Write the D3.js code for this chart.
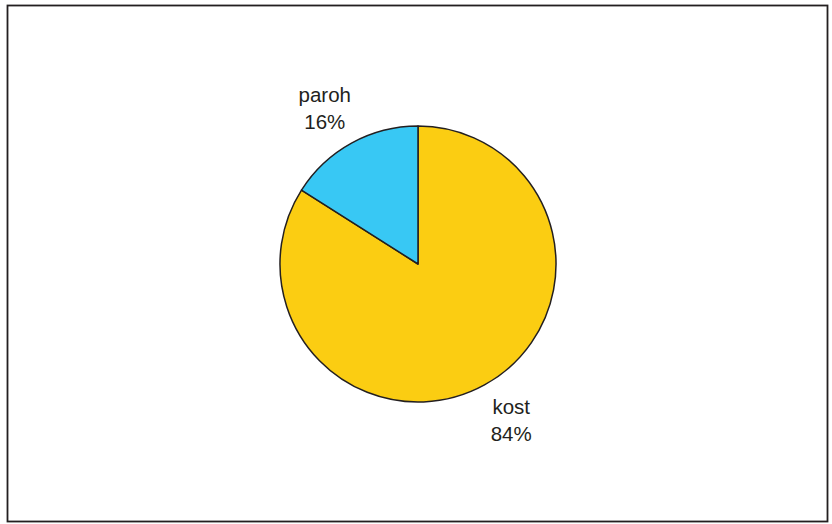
<!DOCTYPE html>
<html>
<head>
<meta charset="utf-8">
<script src="https://cdn.jsdelivr.net/npm/d3@7"></script>
<style>
  body { margin: 0; background: #fff; }
  text { font-family: "Liberation Sans", Arial, sans-serif; font-size: 20.5px; fill: #231f20; }
</style>
</head>
<body>
<div id="chart"></div>
<script>
// data
var categories = ["kost", "paroh"];
var values = [84, 16];
var percentLabels = ["84%", "16%"];
var sliceColors = ["#fbcd12", "#38c8f4"];

function main() {
    var width = 832, height = 524;
    var cx = 418, cy = 264, radius = 138;
    // labels sit on a slightly wider-than-tall ring around the pie
    var labelRx = 193.5, labelRy = 178;

    var svg = d3.select("#chart").append("svg")
                .attr("width", width).attr("height", height);

    // outer frame
    svg.append("rect")
        .attr("x", 7.5).attr("y", 5.5)
        .attr("width", 820).attr("height", 516)
        .attr("fill", "none").attr("stroke", "#231f20").attr("stroke-width", 1.8);

    var details = categories.map(function(c, i) {
        return {name: c, value: values[i], label: percentLabels[i], color: sliceColors[i]};
    });

    var data = d3.pie().sort(null).value(function(d) { return d.value; })(details);

    var segments = d3.arc().innerRadius(0).outerRadius(radius);

    var g = svg.append("g").attr("transform", "translate(" + cx + "," + cy + ")");

    g.selectAll("path").data(data).enter().append("path")
        .attr("d", segments)
        .attr("fill", function(d) { return d.data.color; })
        .attr("stroke", "#231f20")
        .attr("stroke-width", 1.5)
        .attr("stroke-linejoin", "round");

    g.selectAll(".lbl").data(data).enter().append("text")
        .classed("lbl", true)
        .attr("text-anchor", "middle")
        .each(function(d) {
            var mid = (d.startAngle + d.endAngle) / 2;
            var x = Math.sin(mid) * labelRx, y = -Math.cos(mid) * labelRy;
            var t = d3.select(this);
            t.append("tspan").attr("x", x).attr("y", y - 6).text(d.data.name);
            t.append("tspan").attr("x", x).attr("y", y + 21).text(d.data.label);
        });
}
main();
</script>
</body>
</html>
